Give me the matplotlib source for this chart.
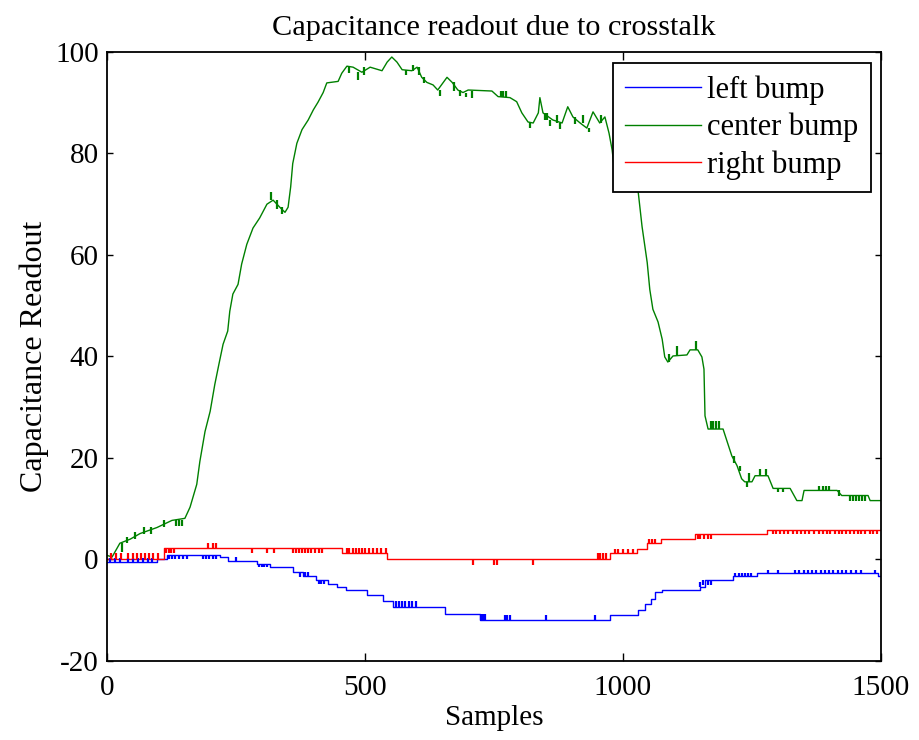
import numpy as np
import matplotlib
matplotlib.use('Agg')
import matplotlib.pyplot as plt

# step points (sample index, readout)
left_x = [0, 96, 116, 219, 235, 290, 316, 360, 380, 406, 429, 445, 464, 503, 535, 555,
          655, 723, 975, 1030, 1043, 1055, 1062, 1075, 1149, 1159, 1214, 1259, 1495, 1500]
left_y = [-0.5, 0.0, 0.9, 0.5, -0.3, -0.9, -1.5, -2.5, -3.2, -4.1, -4.9, -5.5, -6.1, -7.1, -8.1, -9.4,
          -10.7, -11.9, -11.0, -9.9, -8.7, -7.8, -6.4, -6.1, -5.5, -4.0, -3.2, -2.7, -3.3, -3.3]

center_x = [0, 10, 25, 45, 64, 97, 126, 151, 161, 174, 180, 190, 200, 209, 217, 225, 234, 238,
            244, 254, 261, 271, 283, 296, 310, 322, 335, 345, 351, 356, 360, 368, 378, 390, 400,
            409, 419, 426, 448, 455, 465, 477, 494, 510, 533, 543, 552, 562, 572, 591, 601, 610,
            620, 632, 641, 659, 669, 680, 690, 700, 746, 758, 781, 794, 804, 816, 826, 836, 839,
            845, 864, 882, 893, 903, 917, 930, 942, 955, 965, 973, 979, 985, 1005, 1029, 1037,
            1047, 1052, 1058, 1068, 1076, 1081, 1087, 1097, 1124, 1130, 1145, 1153, 1157, 1159,
            1165, 1194, 1202, 1211, 1221, 1230, 1236, 1250, 1256, 1281, 1291, 1324, 1337, 1347,
            1351, 1415, 1424, 1475, 1479, 1500]
center_y = [0.8, 0.5, 3.2, 4.0, 5.1, 6.3, 7.7, 8.1, 10.3, 14.8, 19.3, 25.2, 29.2, 34.5, 38.5,
            42.4, 45.0, 48.9, 52.3, 54.2, 58.2, 62.1, 65.3, 67.3, 70.0, 70.8, 69.4, 68.4, 69.4,
            73.4, 78.0, 82.0, 84.7, 86.6, 88.6, 90.1, 92.0, 93.9, 94.2, 95.8, 97.2, 97.0, 96.0,
            97.0, 96.3, 98.0, 99.0, 98.0, 96.5, 96.3, 97.0, 95.0, 94.0, 93.5, 92.5, 95.0, 94.0,
            92.5, 92.0, 92.5, 92.3, 91.2, 91.0, 90.2, 88.0, 86.2, 86.0, 88.0, 91.0, 88.0, 86.6,
            86.0, 89.2, 87.2, 86.0, 85.0, 88.2, 86.0, 87.2, 84.0, 80.7, 75.4, 74.5, 72.9, 65.6,
            58.5, 53.2, 49.3, 46.8, 43.4, 39.9, 38.9, 40.1, 40.3, 41.3, 41.3, 39.9, 37.5, 28.3,
            25.7, 25.7, 23.2, 20.4, 18.5, 15.9, 15.3, 15.3, 16.5, 16.5, 14.0, 14.0, 11.6, 11.6,
            13.6, 13.6, 12.6, 12.6, 11.6, 11.6]

right_x = [0, 110, 455, 543, 975, 1027, 1046, 1074, 1140, 1280, 1500]
right_y = [0.0, 2.2, 1.2, 0.0, 1.2, 2.0, 3.2, 4.0, 5.0, 5.8, 5.8]

# flicker spikes: (sample, from, to)
left_flick = [(5, -0.5, 0.2), (15, -0.5, 0.2), (26, -0.5, 0.2), (40, -0.5, 0.2), (50, -0.5, 0.2),
              (60, -0.5, 0.2), (70, -0.5, 0.2), (80, -0.5, 0.2), (88, -0.5, 0.2),
              (120, 0.9, 0.0), (126, 0.9, 0.0), (132, 0.9, 0.0), (140, 0.9, 0.0), (148, 0.9, 0.0),
              (155, 0.9, 0.0), (186, 0.9, 0.0), (192, 0.9, 0.0), (198, 0.9, 0.0), (205, 0.9, 0.0),
              (212, 0.9, 0.0), (250, -0.3, 0.5), (295, -0.9, -1.5), (300, -0.9, -1.5),
              (305, -0.9, -1.5), (310, -0.9, -1.5), (375, -2.5, -3.5), (383, -3.2, -2.5),
              (390, -3.2, -2.5), (410, -4.1, -4.9), (415, -4.1, -4.9), (420, -4.1, -4.9),
              (560, -9.4, -8.1), (566, -9.4, -8.1), (572, -9.4, -8.1), (578, -9.4, -8.1),
              (585, -9.4, -8.1), (592, -9.4, -8.1), (598, -9.4, -8.1), (725, -11.9, -10.7),
              (729, -11.9, -10.7), (733, -11.9, -10.7), (771, -11.9, -11.0), (776, -11.9, -11.0),
              (781, -11.9, -11.0), (851, -11.9, -11.0), (945, -11.9, -11.0),
              (1150, -5.5, -4.5), (1155, -4.0, -5.0), (1165, -4.0, -5.0), (1170, -4.0, -5.0),
              (1218, -3.2, -2.6), (1224, -3.2, -2.6), (1230, -3.2, -2.6), (1236, -3.2, -2.6),
              (1242, -3.2, -2.6), (1248, -3.2, -2.6), (1281, -2.7, -2.0), (1300, -2.7, -2.0),
              (1333, -2.7, -2.0), (1342, -2.7, -2.0), (1350, -2.7, -2.0), (1358, -2.7, -2.0),
              (1366, -2.7, -2.0), (1375, -2.7, -2.0), (1383, -2.7, -2.0), (1391, -2.7, -2.0),
              (1400, -2.7, -2.0), (1408, -2.7, -2.0), (1416, -2.7, -2.0), (1425, -2.7, -2.0),
              (1433, -2.7, -2.0), (1442, -2.7, -2.0), (1452, -2.7, -2.0), (1462, -2.7, -2.0),
              (1488, -2.7, -2.0)]

center_flick = [(30, 3.2, 1.5), (38, 3.2, 4.5), (55, 4.0, 5.5), (72, 5.1, 6.3), (85, 5.1, 6.3),
                (110, 6.3, 7.7), (133, 7.7, 6.5), (140, 7.7, 6.5), (146, 7.7, 6.5),
                (318, 70.8, 72.5), (330, 70.8, 69.0), (340, 69.4, 68.0), (470, 97.2, 95.8),
                (487, 96.0, 94.5), (498, 97.0, 95.5), (580, 96.5, 95.5), (594, 96.3, 97.5),
                (605, 97.0, 95.5), (614, 95.0, 93.8), (646, 92.5, 91.3), (673, 94.0, 92.3),
                (684, 92.5, 91.3), (695, 92.0, 91.2), (708, 92.3, 91.0), (763, 91.2, 92.3),
                (768, 91.2, 92.3), (773, 91.2, 92.3), (820, 86.2, 85.0), (848, 88.0, 86.6),
                (853, 88.0, 86.6), (858, 86.6, 85.5), (872, 86.0, 87.5), (878, 86.0, 84.8),
                (908, 87.2, 85.8), (922, 86.0, 87.5), (934, 85.0, 84.2), (958, 86.0, 87.5),
                (1090, 38.9, 40.5), (1105, 40.1, 42.0), (1141, 41.3, 43.0), (1170, 25.7, 27.2),
                (1175, 25.7, 27.2), (1180, 25.7, 27.2), (1186, 25.7, 27.2), (1215, 20.4, 19.0),
                (1226, 18.5, 17.5), (1240, 15.3, 14.3), (1245, 15.3, 17.0), (1265, 16.5, 17.8),
                (1277, 16.5, 17.8), (1300, 14.0, 13.2), (1310, 14.0, 13.2), (1380, 13.6, 14.4),
                (1388, 13.6, 14.4), (1394, 13.6, 14.4), (1400, 13.6, 14.4), (1418, 13.6, 12.6),
                (1440, 12.6, 11.6), (1446, 12.6, 11.6), (1452, 12.6, 11.6), (1458, 12.6, 11.6),
                (1464, 12.6, 11.6), (1470, 12.6, 11.6)]

right_flick = [(8, 0.0, 1.2), (18, 0.0, 1.2), (28, 0.0, 1.2), (40, 0.0, 1.2), (50, 0.0, 1.2),
               (58, 0.0, 1.2), (66, 0.0, 1.2), (74, 0.0, 1.2), (82, 0.0, 1.2), (90, 0.0, 1.2),
               (98, 0.0, 1.2), (115, 2.2, 1.2), (120, 2.2, 1.2), (125, 2.2, 1.2), (130, 2.2, 1.2),
               (196, 2.2, 3.2), (205, 2.2, 3.2), (212, 2.2, 3.2), (281, 2.2, 1.2), (310, 2.2, 1.2),
               (323, 2.2, 1.2), (360, 2.2, 1.2), (366, 2.2, 1.2), (372, 2.2, 1.2), (378, 2.2, 1.2),
               (384, 2.2, 1.2), (390, 2.2, 1.2), (396, 2.2, 1.2), (404, 2.2, 1.2), (410, 2.2, 1.2),
               (416, 2.2, 1.2), (465, 1.2, 2.2), (470, 1.2, 2.2), (476, 1.2, 2.2), (482, 1.2, 2.2),
               (488, 1.2, 2.2), (494, 1.2, 2.2), (500, 1.2, 2.2), (508, 1.2, 2.2), (516, 1.2, 2.2),
               (524, 1.2, 2.2), (532, 1.2, 2.2), (540, 1.2, 2.2), (709, 0.0, -1.0),
               (750, 0.0, -1.0), (755, 0.0, -1.0), (826, 0.0, -1.0), (951, 0.0, 1.2),
               (956, 0.0, 1.2), (962, 0.0, 1.2), (968, 0.0, 1.2), (985, 1.2, 2.0), (990, 1.2, 2.0),
               (1000, 1.2, 2.0), (1010, 1.2, 2.0), (1020, 1.2, 2.0), (1050, 3.2, 4.0),
               (1056, 3.2, 4.0), (1062, 3.2, 4.0), (1145, 5.0, 4.0), (1150, 5.0, 4.0),
               (1157, 5.0, 4.0), (1165, 5.0, 4.0), (1170, 5.0, 4.0), (1290, 5.8, 5.0),
               (1296, 5.8, 5.0), (1305, 5.8, 5.0), (1312, 5.8, 5.0), (1320, 5.8, 5.0),
               (1330, 5.8, 5.0), (1338, 5.8, 5.0), (1345, 5.8, 5.0), (1352, 5.8, 5.0),
               (1360, 5.8, 5.0), (1370, 5.8, 5.0), (1380, 5.8, 5.0), (1388, 5.8, 5.0),
               (1395, 5.8, 5.0), (1402, 5.8, 5.0), (1410, 5.8, 5.0), (1418, 5.8, 5.0),
               (1425, 5.8, 5.0), (1432, 5.8, 5.0), (1440, 5.8, 5.0), (1447, 5.8, 5.0),
               (1455, 5.8, 5.0), (1462, 5.8, 5.0), (1470, 5.8, 5.0), (1478, 5.8, 5.0),
               (1485, 5.8, 5.0), (1492, 5.8, 5.0)]

labels = ['left bump', 'center bump', 'right bump']
colors = ['#0000ff', '#008000', '#ff0000']

plt.rcParams['font.family'] = ['Liberation Serif', 'DejaVu Serif']
plt.rcParams['font.size'] = 21
plt.rcParams['axes.unicode_minus'] = False

fig = plt.figure(figsize=(9.19, 7.40), dpi=100)
ax = fig.add_axes([0.1164, 0.1068, 0.8422, 0.823])

ax.plot(left_x, left_y, color=colors[0], lw=1.0, drawstyle='steps-post', label=labels[0])
ax.plot(center_x, center_y, color=colors[1], lw=1.0, label=labels[1])
ax.plot(right_x, right_y, color=colors[2], lw=1.0, drawstyle='steps-post', label=labels[2])

for flick, c in zip([left_flick, center_flick, right_flick], colors):
    f = np.array(flick)
    ax.vlines(f[:, 0], f[:, 1], f[:, 2], color=c, lw=1.6)

ax.set_xlim(0, 1500)
ax.set_ylim(-20, 100)
ax.set_xticks([0, 500, 1000, 1500])
ax.set_yticks([-20, 0, 20, 40, 60, 80, 100])
ax.tick_params(direction='in', top=True, right=True, width=1.0)
ax.tick_params(axis='x', length=6, pad=10)
ax.tick_params(axis='y', length=4, pad=6)
for s in ax.spines.values():
    s.set_linewidth(1.3)

ax.set_title('Capacitance readout due to crosstalk', fontsize=21.8, pad=12)
ax.set_xlabel('Samples', labelpad=3)
ax.set_ylabel('Capacitance Readout', fontsize=23, labelpad=4)

leg = ax.legend(loc='upper right', bbox_to_anchor=(0.987, 0.982), borderaxespad=0,
                fancybox=False, framealpha=1, edgecolor='black', handlelength=2.5,
                handletextpad=0.2, labelspacing=0.27, borderpad=0.4, fontsize=22)
leg.get_frame().set_linewidth(1.3)

fig.savefig('out.png', dpi=100)
